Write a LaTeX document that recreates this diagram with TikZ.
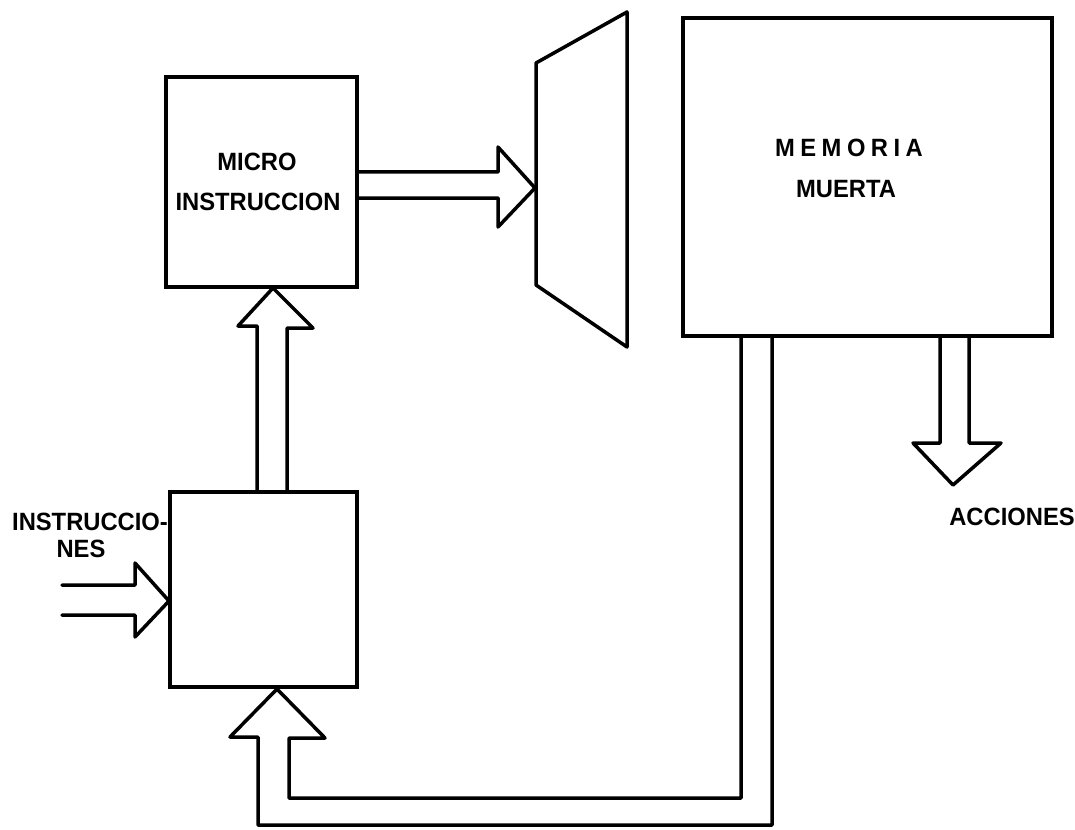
\documentclass[tikz,border=0pt]{standalone}
\usepackage{fontspec}
\newfontfamily\labfont{Liberation Sans}[FakeStretch=0.95]
\newfontfamily\labspaced{Liberation Sans}[FakeStretch=0.95,LetterSpace=22]
\begin{document}
\begin{tikzpicture}[x=1pt,y=-1pt,
  box/.style={draw, line width=3.5pt, inner sep=0pt, outer sep=0pt},
  wire/.style={line width=3.5pt, line join=round, line cap=round},
  lab/.style={font=\labfont\bfseries\fontsize{25}{30}\selectfont, anchor=base, inner sep=0pt},
  labsp/.style={font=\labspaced\bfseries\fontsize{25}{30}\selectfont, anchor=base, inner sep=0pt}]
\useasboundingbox[fill=white] (0,0) rectangle (1075,829);

% boxes
\node[box, minimum width=191pt, minimum height=210pt] (micro) at (261.5,182) {};
\node[box, minimum width=187pt, minimum height=195pt] (reg) at (263.5,589.5) {};
\node[box, minimum width=369pt, minimum height=318pt] (rom) at (867.5,177) {};

% trapezoid (selector)
\coordinate (tTL) at (536,63);
\coordinate (tTR) at (627,12);
\coordinate (tBR) at (627,347);
\coordinate (tBL) at (536,285);
\draw[wire] (tTL) -- (tTR) -- (tBR) -- (tBL) -- cycle;

% texts
\node[lab] (t1) at (257,171) {MICRO};
\node[lab] (t2) at (258,210) {INSTRUCCION};
\node[labsp] (t3) at (849,157) {MEMORIA};
\node[lab] (t4) at (846,197) {MUERTA};
\node[lab] (t5) at (90,530) {INSTRUCCIO-};
\node[lab] (t6) at (81,557) {NES};
\node[lab] (t7) at (1012,525) {ACCIONES};

% micro -> trapezoid
\draw[wire] (micro.east |- 0,172) -- (498,172) -- (498,147) -- (535,188)
  -- (498,227) -- (498,198) -- (micro.east |- 0,198);

% register -> micro
\draw[wire] (257,0 |- reg.north) -- (257,326) -- (238,326) -- (273,288)
  -- (313,328) -- (287,328) -- (287,0 |- reg.north);

% instrucciones input
\coordinate (inA) at (62,585);
\coordinate (inB) at (62,615);
\draw[wire] (inA) -- (135,585) -- (135,563) -- (169,601)
  -- (135,637) -- (135,615) -- (inB);

% acciones output
\draw[wire] (940,0 |- rom.south) -- (940,443) -- (913,443) -- (953,485)
  -- (1001,443) -- (969,443) -- (969,0 |- rom.south);

% feedback from memory to register
\draw[wire] (772,0 |- rom.south) -- (772,825) -- (258,825) -- (258,737)
  -- (230,737) -- (277,689) -- (325,738) -- (289,738) -- (289,798)
  -- (741,798) -- (741,0 |- rom.south);
\end{tikzpicture}
\end{document}
